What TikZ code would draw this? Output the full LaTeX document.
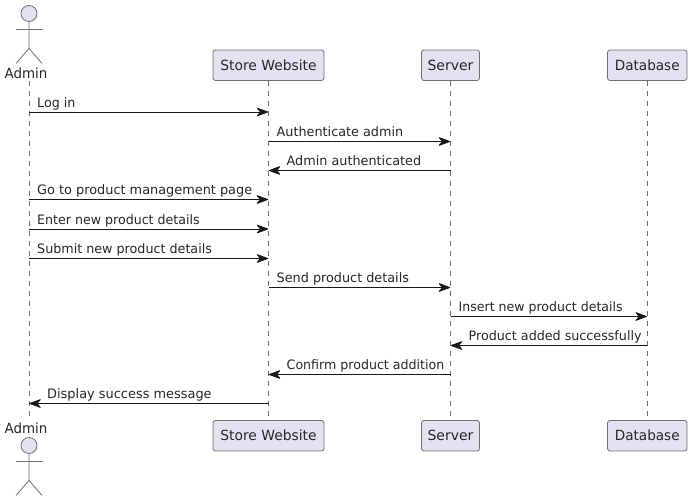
\documentclass[tikz,border=0pt]{standalone}
\usepackage{fontspec}
\setmainfont{DejaVu Sans}
\usetikzlibrary{arrows.meta}
\definecolor{partfill}{HTML}{E2E2F0}
\definecolor{partline}{HTML}{181818}
\definecolor{softline}{HTML}{6E6E6E}
\definecolor{softtext}{HTML}{262626}
\tikzset{
  x=1pt,y=-1pt,
  partbox/.style={draw=softline,line width=0.8pt,fill=partfill,rounded corners=2.5pt,inner sep=0pt,minimum height=30.5pt,font=\fontsize{14}{16}\selectfont,text=softtext},
  lifeline/.style={draw=softline,line width=0.7pt,dash pattern=on 5pt off 5pt},
  msgline/.style={draw=partline,line width=0.8pt,-{Stealth[length=13pt,width=9.5pt,inset=4pt,round=false]},shorten >=0.3pt},
  msgtext/.style={anchor=base west,inner sep=0pt,font=\fontsize{13}{15}\selectfont,text=softtext},
  actorname/.style={anchor=base,inner sep=0pt,font=\fontsize{14}{16}\selectfont,text=softtext},
  actorhead/.style={circle,draw=softline,line width=0.8pt,fill=partfill,minimum size=16pt,inner sep=0pt},
  actorlimb/.style={draw=softline,line width=0.8pt},
}
\newcommand{\stickfigure}[2]{% head name, head y
  \node[actorhead] (#1) at (29,#2) {};
  \draw[actorlimb] (#1.south) -- ++(0,26.5) coordinate (#1hip) -- ++(-13,15);
  \draw[actorlimb] (#1hip) -- ++(13,15);
  \draw[actorlimb] (16,#2+15.5) -- (42.5,#2+15.5);
}
\newcommand{\rmsg}[5]{% from, to, y, x scale, text
  \draw[msgline] (#1 |- 0,#3) -- (#2 |- 0,#3);
  \node[msgtext] at ([xshift=8pt]#1 |- 0,#3-4.7) {\scalebox{#4}[1]{#5}};
}
\newcommand{\lmsg}[5]{% from, to, y, x scale, text
  \draw[msgline] (#1 |- 0,#3) -- (#2 |- 0,#3);
  \node[msgtext] at ([xshift=18pt]#2 |- 0,#3-4.7) {\scalebox{#4}[1]{#5}};
}
\begin{document}
\begin{tikzpicture}
\useasboundingbox (0,0) rectangle (692,501);
% participants
\node[partbox,minimum width=111pt] (webT) at (268.5,65.25) {\scalebox{0.99}[1]{Store Website}};
\node[partbox,minimum width=58pt] (srvT) at (450.5,65.25) {Server};
\node[partbox,minimum width=79.5pt] (dbT) at (647.25,65.25) {\scalebox{0.97}[1]{Database}};
\node[partbox,minimum width=111pt] (webB) at (268.5,435.75) {\scalebox{0.99}[1]{Store Website}};
\node[partbox,minimum width=58pt] (srvB) at (450.5,435.75) {Server};
\node[partbox,minimum width=79.5pt] (dbB) at (647.25,435.75) {\scalebox{0.97}[1]{Database}};
% actors
\stickfigure{headT}{13.5}
\stickfigure{headB}{445.5}
\node[actorname] (admT) at (26,78) {\scalebox{0.96}[1]{Admin}};
\node[actorname] (admB) at (26,433.5) {\scalebox{0.96}[1]{Admin}};
\coordinate (admTop) at (29,81);
\coordinate (admBot) at (29,417);
% lifelines
\draw[lifeline] (admTop) -- (admBot);
\draw[lifeline] (webT.south) -- (webB.north);
\draw[lifeline] (srvT.south) -- (srvB.north);
\draw[lifeline] (dbT.south) -- (dbB.north);
% messages
\rmsg{admTop}{webT}{112}{0.975}{Log in}
\rmsg{webT}{srvT}{141.5}{0.985}{Authenticate admin}
\lmsg{srvT}{webT}{170.5}{0.985}{Admin authenticated}
\rmsg{admTop}{webT}{199.5}{0.99}{Go to product management page}
\rmsg{admTop}{webT}{229}{0.97}{Enter new product details}
\rmsg{admTop}{webT}{258.5}{0.978}{Submit new product details}
\rmsg{webT}{srvT}{287.5}{0.985}{Send product details}
\rmsg{srvT}{dbT}{316.5}{0.965}{Insert new product details}
\lmsg{dbT}{srvT}{345.5}{0.977}{Product added successfully}
\lmsg{srvT}{webT}{374.5}{0.97}{Confirm product addition}
\lmsg{webT}{admTop}{403.5}{0.994}{Display success message}
\end{tikzpicture}
\end{document}
